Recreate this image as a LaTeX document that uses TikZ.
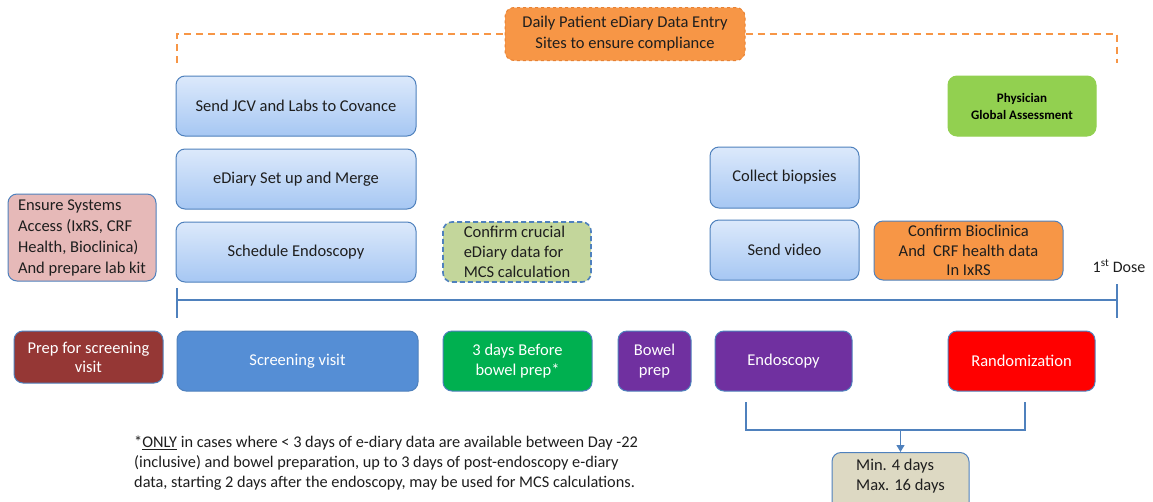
\documentclass[tikz,border=0pt]{standalone}
\usepackage{fontspec}
\setmainfont{Carlito}
\usetikzlibrary{arrows.meta}
\definecolor{bord}{RGB}{79,129,189}
\definecolor{gtop}{RGB}{220,233,251}
\definecolor{gbot}{RGB}{166,199,243}
\definecolor{pinkf}{RGB}{230,185,184}
\definecolor{lgreen}{RGB}{195,214,155}
\definecolor{orangef}{RGB}{247,150,70}
\definecolor{orangeb}{RGB}{233,130,50}
\definecolor{pgagreen}{RGB}{146,208,80}
\definecolor{darkred}{RGB}{149,55,53}
\definecolor{scrblue}{RGB}{85,142,213}
\definecolor{bgreen}{RGB}{0,176,80}
\definecolor{purp}{RGB}{112,48,160}
\definecolor{tan}{RGB}{221,217,195}
\definecolor{txt}{RGB}{30,30,30}
\tikzset{
  base/.style={rectangle, rounded corners=9pt, inner sep=2pt, align=center, line width=1pt, text=txt,
    font=\fontsize{16.5}{20}\selectfont},
  bluebox/.style={base, draw=bord, top color=gtop, bottom color=gbot},
  solidbox/.style={base, draw=bord, fill=#1, text=white},
  orangedash/.style={draw=orangef, dashed, dash pattern=on 7pt off 5pt, line width=1.6pt},
  tline/.style={draw=bord, line width=1.2pt},
}
\begin{document}
\begin{tikzpicture}[x=1pt,y=-1pt]
\useasboundingbox[fill=white] (0,0) rectangle (1153,501);

% top orange
\node[base, fill=orangef, draw=orangeb, dashed, line width=1pt, minimum width=240pt, minimum height=53pt, font=\fontsize{16.5}{21}\selectfont] (daily) at (625,34)
  {Daily Patient eDiary Data Entry\\Sites to ensure compliance};
\coordinate (dl) at (177,63);
\coordinate (dr) at (1117,63);
\draw[orangedash] (dl) |- (daily.west);
\draw[orangedash] (daily.east) -| (dr);

% blue boxes
\node[bluebox, minimum width=240pt, minimum height=60pt] (jcv) at (296,106) {Send JCV and Labs to Covance};
\node[bluebox, minimum width=240pt, minimum height=60pt] (ediary) at (296,179) {eDiary Set up and Merge};
\node[bluebox, minimum width=240pt, minimum height=60pt] (sched) at (296,252) {Schedule Endoscopy};
\node[bluebox, minimum width=149pt, minimum height=61pt] (biop) at (784.5,177.5) {Collect biopsies};
\node[bluebox, minimum width=149pt, minimum height=60pt] (video) at (784.5,250) {Send video};

\node[base, draw=bord, fill=pinkf, align=left, minimum width=148pt, minimum height=87pt, font=\fontsize{16.5}{21}\selectfont] (ensure) at (82,237.5)
  {Ensure Systems\\Access (IxRS, CRF\\Health, Bioclinica)\\And prepare lab kit};
\node[base, draw=bord, dashed, dash pattern=on 5pt off 3pt, line width=1.6pt, fill=lgreen, align=left, minimum width=148pt, minimum height=60pt] (confirm) at (517,252)
  {Confirm crucial\\eDiary data for\\MCS calculation};
\node[base, draw=bord, fill=orangef, minimum width=189pt, minimum height=59pt, font=\fontsize{16.5}{19.5}\selectfont] (biocl) at (968.5,250.5)
  {Confirm Bioclinica\\And\ \ CRF health data\\In IxRS};
\node[base, draw=pgagreen, fill=pgagreen, minimum width=148pt, minimum height=60pt, text=black, font=\fontsize{13}{17}\selectfont\bfseries] (pga) at (1022,106)
  {Physician\\Global Assessment};

\node[font=\fontsize{16}{18}\selectfont, text=txt] (dose) at (1119,266) {1\textsuperscript{st} Dose};

% timeline
\coordinate (tl) at (177,300);
\coordinate (tr) at (1117,300);
\coordinate (tlu) at (177,288);
\coordinate (tld) at (177,318);
\coordinate (tru) at (1117,284);
\coordinate (trd) at (1117,318);
\draw[tline] (tl) -- (tr);
\draw[tline] (tlu) -- (tld);
\draw[tline] (tru) -- (trd);

% bottom row
\node[solidbox=darkred, minimum width=149pt, minimum height=52pt, font=\fontsize{16.5}{19}\selectfont] (prep) at (88.5,357) {Prep for screening\\visit};
\node[solidbox=scrblue, minimum width=241pt, minimum height=60pt] (scr) at (297.5,361) {Screening visit};
\node[solidbox=bgreen, minimum width=149pt, minimum height=60pt] (three) at (517.5,361) {3 days Before\\bowel prep*};
\node[solidbox=purp, minimum width=73pt, minimum height=60pt] (bowel) at (654.5,361) {Bowel\\prep};
\node[solidbox=purp, minimum width=137pt, minimum height=60pt] (endo) at (783.5,361) {Endoscopy};
\node[solidbox=red, minimum width=147pt, minimum height=60pt] (rand) at (1021.5,361) {Randomization};

% bracket
\coordinate (b1) at (746,402);
\coordinate (b2) at (1025,402);
\coordinate (bm) at (900.5,430);
\draw[tline] (b1) |- (b2 |- bm) -- (b2);
\node[base, draw=bord, fill=tan, align=left, anchor=north, minimum width=137pt, inner ysep=7pt] (minbox) at (900.5,452)
  {Min. 4 days\\Max. 16 days\\[4pt]};
\draw[tline, -{Triangle[length=7pt,width=8pt]}] (bm) -- (minbox.north);

% footnote
\node[anchor=north west, align=left, text=txt, inner sep=0pt, font=\fontsize{16.3}{20}\selectfont] (foot) at (134,436)
  {*\underline{ONLY} in cases where < 3 days of e-diary data are available between Day -22\\
   (inclusive) and bowel preparation, up to 3 days of post-endoscopy e-diary\\
   data, starting 2 days after the endoscopy, may be used for MCS calculations.};
\end{tikzpicture}
\end{document}
